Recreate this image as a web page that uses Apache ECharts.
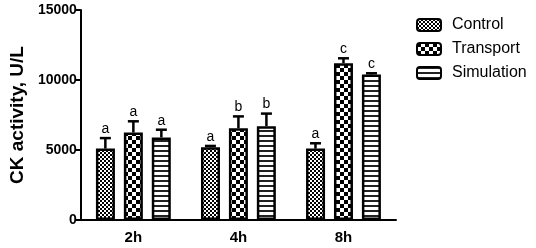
<!DOCTYPE html>
<html>
<head>
<meta charset="utf-8">
<script src="https://cdn.jsdelivr.net/npm/echarts@6/dist/echarts.min.js"></script>
<style>
  html, body { margin: 0; padding: 0; background: #fff; }
  #chart { width: 536px; height: 248px; }
</style>
</head>
<body>
<div id="chart"></div>
<script>
var categories = ['2h', '4h', '8h'];
var groups = ['Control', 'Transport', 'Simulation'];
var controlMean = [5100, 5200, 5100];
var controlSd = [750, 90, 380];
var transportMean = [6250, 6550, 11200];
var transportSd = [800, 850, 350];
var simulationMean = [5900, 6700, 10400];
var simulationSd = [550, 900, 80];
var controlLetters = ['a', 'a', 'a'];
var transportLetters = ['a', 'b', 'c'];
var simulationLetters = ['a', 'b', 'c'];
var yTicks = [0, 5000, 10000, 15000];

var FONT = 'Arial, "Liberation Sans", sans-serif';
var BAR_W = 19;
var STEP = 28; // bar width + gap, px

// little canvases used as fill patterns
function makePattern(w, h, draw) {
  var c = document.createElement('canvas');
  c.width = w; c.height = h;
  var ctx = c.getContext('2d');
  ctx.fillStyle = '#fff';
  ctx.fillRect(0, 0, w, h);
  ctx.fillStyle = '#000';
  draw(ctx);
  return { image: c, repeat: 'repeat' };
}
var fineCheck = makePattern(4, 4, function (ctx) {
  ctx.fillRect(0, 0, 2, 2); ctx.fillRect(2, 2, 2, 2);
});
var bigCheck = makePattern(8, 8, function (ctx) {
  ctx.fillRect(0, 0, 4, 4); ctx.fillRect(4, 4, 4, 4);
});
var stripes = makePattern(4, 5, function (ctx) {
  ctx.fillStyle = '#222';
  ctx.fillRect(0, 0, 4, 2);
});

var means = [controlMean, transportMean, simulationMean];
var sds = [controlSd, transportSd, simulationSd];
var letters = [controlLetters, transportLetters, simulationLetters];
var fills = [fineCheck, bigCheck, stripes];

var chart = echarts.init(document.getElementById('chart'), null, { renderer: 'canvas' });

var series = [];
groups.forEach(function (g, i) {
  series.push({
    name: g,
    type: 'bar',
    barWidth: BAR_W,
    barGap: '47%',
    data: means[i],
    itemStyle: { color: fills[i], borderColor: '#000', borderWidth: 2.5 },
    z: 2
  });
});
groups.forEach(function (g, i) {
  series.push({
    type: 'custom',
    silent: true,
    z: 3,
    data: categories.map(function (c, k) {
      return [k, means[i][k], sds[i][k], letters[i][k]];
    }),
    renderItem: function (params, api) {
      var k = api.value(0);
      var m = api.value(1);
      var s = api.value(2);
      var base = api.coord([k, m]);
      var top = api.coord([k, m + s]);
      var x = base[0] + (i - 1) * STEP;
      return {
        type: 'group',
        children: [
          { type: 'line', shape: { x1: x, y1: base[1], x2: x, y2: top[1] },
            style: { stroke: '#000', lineWidth: 2.5 } },
          { type: 'line', shape: { x1: x - 5.5, y1: top[1], x2: x + 5.5, y2: top[1] },
            style: { stroke: '#000', lineWidth: 2.5 } },
          { type: 'text', x: x, y: top[1] - 2,
            style: { text: letters[i][k], fill: '#000', font: '14px ' + FONT,
                     textAlign: 'center', textVerticalAlign: 'bottom' } }
        ]
      };
    }
  });
});

chart.setOption({
  animation: false,
  backgroundColor: '#fff',
  grid: { left: 76, right: 140, top: 10, bottom: 28, containLabel: false },
  legend: {
    orient: 'vertical',
    left: 411,
    top: 12,
    itemWidth: 24,
    itemHeight: 12,
    itemGap: 8,
    data: groups,
    textStyle: { fontFamily: FONT, fontSize: 16, color: '#000', padding: [0, 0, 0, 6] }
  },
  xAxis: {
    type: 'category',
    data: categories,
    axisLine: { lineStyle: { color: '#000', width: 2 } },
    axisTick: { alignWithLabel: true, length: 5, lineStyle: { color: '#000', width: 2 } },
    axisLabel: { fontFamily: FONT, fontSize: 15, fontWeight: 'bold', color: '#000', margin: 10 }
  },
  yAxis: {
    type: 'value',
    min: yTicks[0],
    max: yTicks[yTicks.length - 1],
    interval: yTicks[1] - yTicks[0],
    name: 'CK activity, U/L',
    nameLocation: 'middle',
    nameGap: 44,
    nameTextStyle: { fontFamily: FONT, fontSize: 19, fontWeight: 'bold', color: '#000' },
    splitLine: { show: false },
    axisLine: { show: true, lineStyle: { color: '#000', width: 2 } },
    axisTick: { show: true, length: 5, lineStyle: { color: '#000', width: 2 } },
    axisLabel: { fontFamily: FONT, fontSize: 14, fontWeight: 'bold', color: '#000', margin: 4,
                 formatter: function (v) { return String(v); } }
  },
  series: series
});
</script>
</body>
</html>
